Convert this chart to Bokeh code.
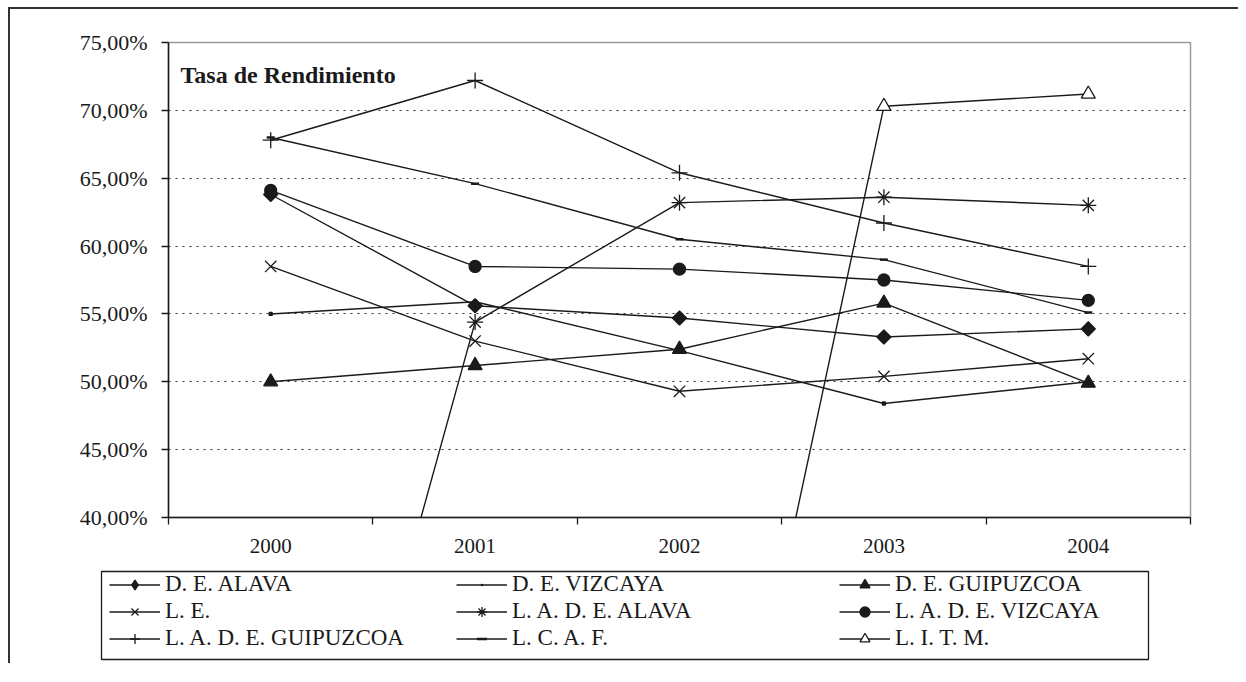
import math
from bokeh.plotting import figure
from bokeh.models import FixedTicker, Legend, LegendItem, Range1d, Label
from bokeh.embed import file_html
from bokeh.resources import INLINE

years = ["2000", "2001", "2002", "2003", "2004"]
series_names = ["D. E. ALAVA", "D. E. VIZCAYA", "D. E. GUIPUZCOA",
                "L. E.", "L. A. D. E. ALAVA", "L. A. D. E. VIZCAYA",
                "L. A. D. E. GUIPUZCOA", "L. C. A. F.", "L. I. T. M."]
de_alava = [63.8, 55.6, 54.7, 53.3, 53.9]
de_vizcaya = [55.0, 55.9, 52.3, 48.4, 50.0]
de_guipuzcoa = [50.0, 51.2, 52.4, 55.8, 49.9]
le = [58.5, 53.0, 49.3, 50.4, 51.7]
lade_alava = [0.0, 54.4, 63.2, 63.6, 63.0]
lade_vizcaya = [64.1, 58.5, 58.3, 57.5, 56.0]
lade_guipuzcoa = [67.8, 72.2, 65.4, 61.7, 58.5]
lcaf = [68.0, 64.6, 60.5, 59.0, 55.1]
litm = [0.0, 0.0, 0.0, 70.3, 71.2]
y_ticks = [40, 45, 50, 55, 60, 65, 70, 75]
y_tick_labels = ["40,00%", "45,00%", "50,00%", "55,00%", "60,00%", "65,00%", "70,00%", "75,00%"]
title_text = "Tasa de Rendimiento"

series_values = [de_alava, de_vizcaya, de_guipuzcoa, le, lade_alava,
                 lade_vizcaya, lade_guipuzcoa, lcaf, litm]

INK = "#1a1a1a"
FONT = "Liberation Serif"
# marker, size, fill, angle (chart)
styles = [
    ("square", 10, INK, math.pi / 4),
    ("square", 3, INK, 0),
    ("triangle", 14, INK, 0),
    ("x", 16, None, 0),
    ("asterisk", 16, None, 0),
    ("circle", 12, INK, 0),
    ("cross", 16, None, 0),
    ("dash", 8, None, 0),
    ("triangle", 14, "white", 0),
]
# legend samples (legend draws markers at its own size, without angle)
legend_styles = list(styles)
legend_styles[0] = ("diamond", 14, INK, 0)
legend_styles[1] = ("dot", 10, INK, 0)


def marker_kw(mk, sz, fill, ang):
    kw = dict(marker=mk, size=sz, angle=ang, line_color=INK, line_width=1.3)
    if fill is None:
        kw["fill_alpha"] = 0
    else:
        kw["fill_color"] = fill
    if mk == "dash":
        kw["line_width"] = 2.5
    return kw


xs = list(range(len(years)))

# ---------------- main chart ----------------
p = figure(frame_width=1022, frame_height=475, min_border_left=158, min_border_top=33,
           min_border_right=48, min_border_bottom=50,
           x_range=Range1d(-0.5, len(years) - 0.5), y_range=Range1d(y_ticks[0], y_ticks[-1]),
           output_backend="svg", toolbar_location=None,
           styles={"border-left": "2px solid #333", "border-top": "2px solid #333",
                   "margin-left": "8px", "margin-top": "7px"})

p.background_fill_color = "white"
p.border_fill_color = "white"
p.outline_line_color = "#9a9a9a"
p.outline_line_width = 1.5

xa = p.xaxis[0]
xa.ticker = FixedTicker(ticks=xs, minor_ticks=[i - 0.5 for i in range(len(years) + 1)])
xa.major_label_overrides = {i: y for i, y in enumerate(years)}
xa.major_tick_out = 0
xa.major_tick_in = 0
xa.minor_tick_out = 7
xa.minor_tick_in = 0
xa.minor_tick_line_color = INK
xa.minor_tick_line_width = 1.3
xa.axis_line_color = INK
xa.axis_line_width = 1.5
xa.major_label_text_font = FONT
xa.major_label_text_font_size = "21px"
xa.major_label_text_color = INK
xa.major_label_standoff = 14

ya = p.yaxis[0]
ya.ticker = FixedTicker(ticks=y_ticks, minor_ticks=[])
ya.major_label_overrides = {t: l for t, l in zip(y_ticks, y_tick_labels)}
ya.major_tick_out = 7
ya.major_tick_in = 0
ya.major_tick_line_color = INK
ya.major_tick_line_width = 1.3
ya.axis_line_color = INK
ya.axis_line_width = 1.5
ya.major_label_text_font = FONT
ya.major_label_text_font_size = "22px"
ya.major_label_text_color = INK
ya.major_label_standoff = 14

p.xgrid.visible = False
p.ygrid.ticker = FixedTicker(ticks=y_ticks[1:-1])
p.ygrid.grid_line_color = "#333333"
p.ygrid.grid_line_dash = "2 5"
p.ygrid.grid_line_width = 1.2

for name, vals, st in zip(series_names, series_values, styles):
    p.line(xs, vals, line_color=INK, line_width=1.4)
    p.scatter(xs, vals, **marker_kw(*st))

p.add_layout(Label(x=-0.5, y=y_ticks[-1], x_offset=12, y_offset=-32, text=title_text,
                   text_font=FONT, text_font_size="24px", text_font_style="bold",
                   text_color=INK, text_baseline="alphabetic"))

# ---------------- legend box (separate root below the chart) ----------------
lg = figure(frame_width=1047, frame_height=88, min_border_left=91, min_border_top=4,
            min_border_right=90, min_border_bottom=4,
            x_range=Range1d(-0.5, len(years) - 0.5), y_range=Range1d(200, 210),
            x_axis_location=None, y_axis_location=None,
            output_backend="svg", toolbar_location=None,
            styles={"border-left": "2px solid #333", "margin-left": "8px"})
lg.grid.visible = False
lg.outline_line_color = INK
lg.outline_line_width = 1.3
lg.background_fill_color = "white"
lg.border_fill_color = "white"

items = []
for name, vals, st in zip(series_names, series_values, legend_styles):
    # same series drawn outside the visible range: only the legend samples show
    r1 = lg.line(xs, vals, line_color=INK, line_width=1.4)
    r2 = lg.scatter(xs, vals, **marker_kw(*st))
    items.append(LegendItem(label=name, renderers=[r1, r2]))

col_x = [8, 355, 738]
for c in range(3):
    leg = Legend(items=items[c::3], orientation="vertical",
                 location=(col_x[c], 8), margin=0, padding=0, spacing=1,
                 glyph_width=51, glyph_height=25, label_standoff=5,
                 label_text_font=FONT, label_text_font_size="23px", label_text_color=INK,
                 border_line_alpha=0, background_fill_alpha=0)
    lg.add_layout(leg, "center")

open("out.html", "w").write(file_html((p, lg), INLINE))
